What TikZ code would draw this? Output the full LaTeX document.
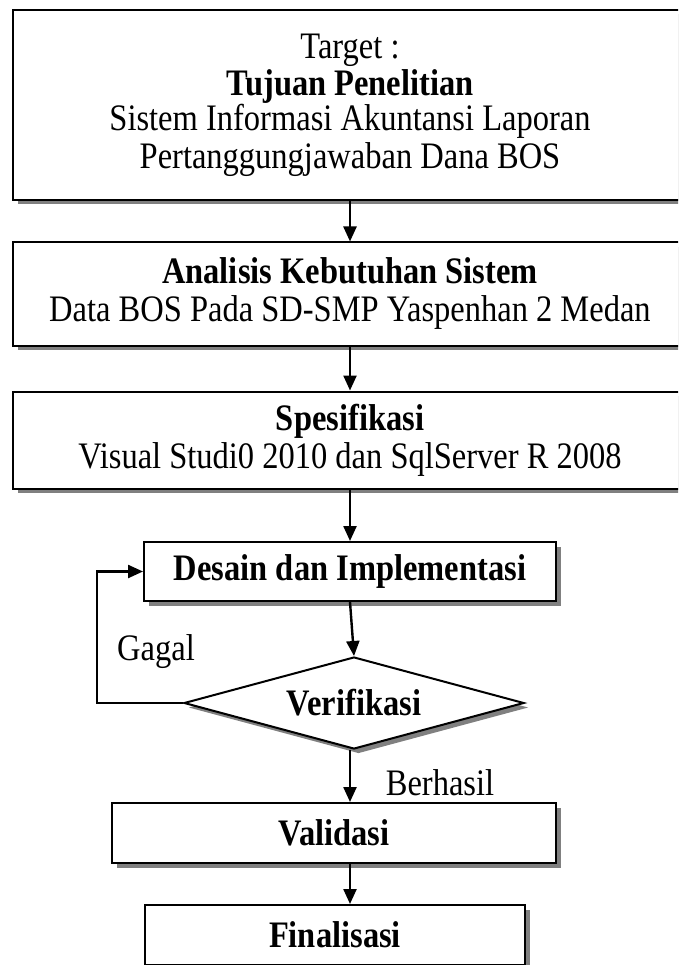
\documentclass[tikz,border=0pt]{standalone}
\usepackage{fontspec}
\usepackage{graphicx}
\setmainfont{Liberation Serif}
\usetikzlibrary{shapes.geometric,shadows,arrows.meta}

% tall, slightly condensed looking lettering
\newcommand{\tl}[1]{\scalebox{1}[1.15]{#1}}

\tikzset{
  flowtext/.style={font=\fontsize{32.5}{38}\selectfont, align=center},
  shadowed/.style={drop shadow={shadow xshift=4.5pt, shadow yshift=-4.5pt, fill=black!50, opacity=1}},
  stagebox/.style={draw, line width=2pt, fill=white, rectangle, shadowed, flowtext, inner sep=0pt},
  decision/.style={draw, line width=2pt, fill=white, diamond, shadowed, flowtext, inner sep=0pt},
  flowarrow/.style={line width=2.4pt, -{Triangle[length=15pt, width=13pt]}},
  edgelabel/.style={flowtext, inner sep=0pt}
}

\begin{document}
\begin{tikzpicture}[x=1pt, y=-1pt]
  \useasboundingbox (0,0) rectangle (678,965);
  \clip (0,0) rectangle (678,965);

  % vertical axis shared by the straight connectors
  \coordinate (axis) at (350,0);
  \coordinate (loop) at (97,0);

  % process stages
  \node[stagebox, minimum width=674, minimum height=190] (tgt) at (350,105)
    {\tl{Target :}\\[-1pt] \tl{\textbf{Tujuan Penelitian}}\\[-3pt] \tl{Sistem Informasi Akuntansi Laporan}\\[0pt] \tl{Pertanggungjawaban Dana BOS}\\[-30pt]\mbox{}};
  \node[stagebox, minimum width=674, minimum height=103] (ana) at (350,294)
    {\tl{\textbf{Analisis Kebutuhan Sistem}}\\ \tl{Data BOS Pada SD-SMP Yaspenhan 2 Medan}};
  \node[stagebox, minimum width=674, minimum height=97] (spe) at (350,440)
    {\tl{\textbf{Spesifikasi}}\\ \tl{Visual Studi0 2010 dan SqlServer R 2008}};
  \node[stagebox, minimum width=412, minimum height=59] (des) at (350,571.5)
    {\tl{\textbf{Desain dan Implementasi}}};
  \node[decision, minimum width=340, minimum height=92, aspect=3.7] (ver) at (354,703)
    {\tl{\textbf{Verifikasi}}};
  \node[stagebox, minimum width=444, minimum height=60] (val) at (334,833)
    {\tl{\textbf{Validasi}}};
  \node[stagebox, minimum width=380, minimum height=60] (fin) at (335,935)
    {\tl{\textbf{Finalisasi}}};

  % connectors
  \draw[flowarrow] (tgt.south -| axis) -- (ana.north -| axis);
  \draw[flowarrow] (ana.south -| axis) -- (spe.north -| axis);
  \draw[flowarrow] (spe.south -| axis) -- (des.north -| axis);
  \draw[flowarrow] (des.south -| axis) -- (ver.north);
  \draw[flowarrow] (ver.south -| axis) -- (val.north -| axis);
  \draw[flowarrow] (val.south -| axis) -- (fin.north -| axis);
  \draw[flowarrow] (ver.west) -- (ver.west -| loop) |- (des.west);

  % branch labels
  \node[edgelabel] (gagal) at (156,652) {\tl{Gagal}};
  \node[edgelabel] (berhasil) at (440,783) {\tl{Berhasil}};
\end{tikzpicture}
\end{document}
